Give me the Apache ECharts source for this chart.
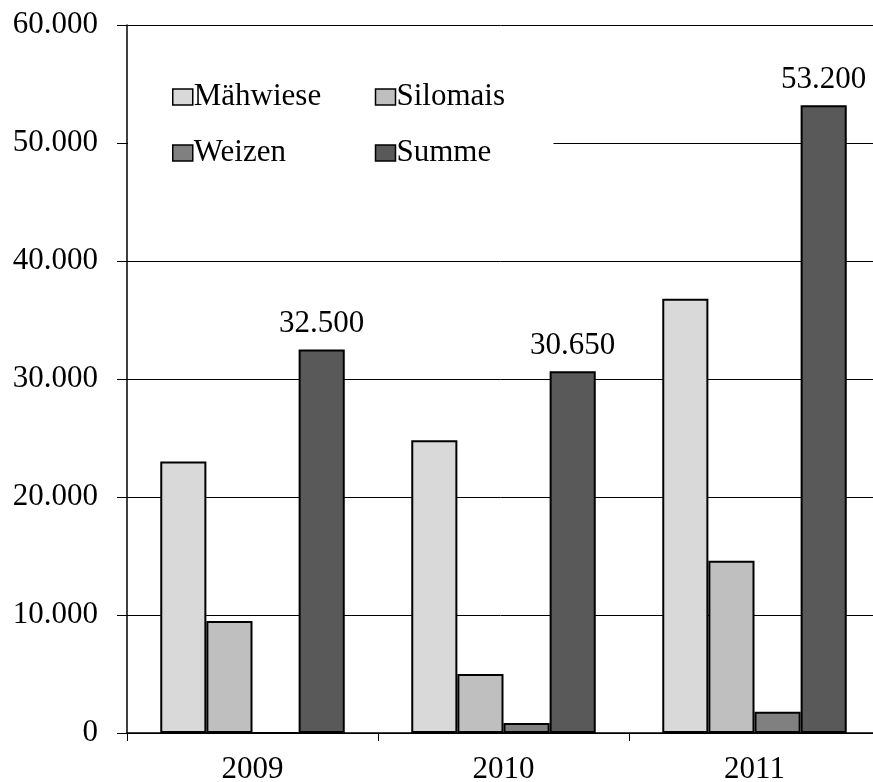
<!DOCTYPE html>
<html>
<head>
<meta charset="utf-8">
<script src="https://cdn.jsdelivr.net/npm/echarts@6/dist/echarts.min.js"></script>
<style>html,body{margin:0;padding:0;background:#fff}#c{width:873px;height:782px}</style>
</head>
<body>
<div id="c"></div>
<script>
const years = ['2009', '2010', '2011'];
const seriesNames = ['Mähwiese', 'Silomais', 'Weizen', 'Summe'];
const maehwiese = [23000, 24800, 36800];
const silomais = [9500, 5000, 14600];
const weizen = [0, 850, 1800];
const summe = [32500, 30650, 53200];
const yTicks = [0, 10000, 20000, 30000, 40000, 50000, 60000];

const colors = ['#d9d9d9', '#bfbfbf', '#808080', '#595959'];
const FONT = 'Liberation Serif';
function de(v) { return String(Math.round(v)).replace(/\B(?=(\d{3})+(?!\d))/g, '.'); }

const values = [maehwiese, silomais, weizen, summe];
const chart = echarts.init(document.getElementById('c'));
chart.setOption({
  animation: false,
  backgroundColor: '#fff',
  textStyle: { fontFamily: FONT },
  grid: { left: 127, top: 25, width: 753, height: 708, containLabel: false, outerBoundsMode: 'none' },
  legend: {
    data: seriesNames,
    left: 128, top: 71,
    width: 420,
    orient: 'horizontal',
    itemWidth: 20, itemHeight: 16, itemGap: 24,
    padding: [10, 0, 12, 44],
    backgroundColor: '#fff',
    icon: 'rect',
    textStyle: { fontFamily: FONT, fontSize: 31, color: '#000', width: 157, lineHeight: 32, padding: [0, 0, 0, -4] },
    itemStyle: { borderColor: '#000', borderWidth: 1.5 }
  },
  xAxis: {
    type: 'category',
    data: years,
    axisLine: { lineStyle: { color: '#000', width: 1.5 } },
    axisTick: { show: true, length: 8, lineStyle: { color: '#000', width: 1 } },
    axisLabel: { fontFamily: FONT, fontSize: 31, color: '#000', margin: 21 }
  },
  yAxis: {
    type: 'value',
    min: yTicks[0], max: yTicks[yTicks.length - 1], interval: 10000,
    axisLine: { show: true, lineStyle: { color: '#000', width: 1.5 } },
    axisTick: { show: true, length: 10, lineStyle: { color: '#000', width: 1 } },
    axisLabel: { fontFamily: FONT, fontSize: 31, color: '#000', margin: 29, formatter: v => de(v) },
    splitLine: { show: true, lineStyle: { color: '#000', width: 1 } }
  },
  series: seriesNames.map((name, i) => ({
    name: name,
    type: 'bar',
    data: values[i],
    barGap: '0%',
    barCategoryGap: '26.5%',
    itemStyle: { color: colors[i], borderColor: '#000', borderWidth: 2 },
    label: i === 3 ? {
      show: true, position: 'top', distance: 10,
      fontFamily: FONT, fontSize: 31, color: '#000',
      formatter: p => de(p.value)
    } : { show: false }
  }))
});
</script>
</body>
</html>
